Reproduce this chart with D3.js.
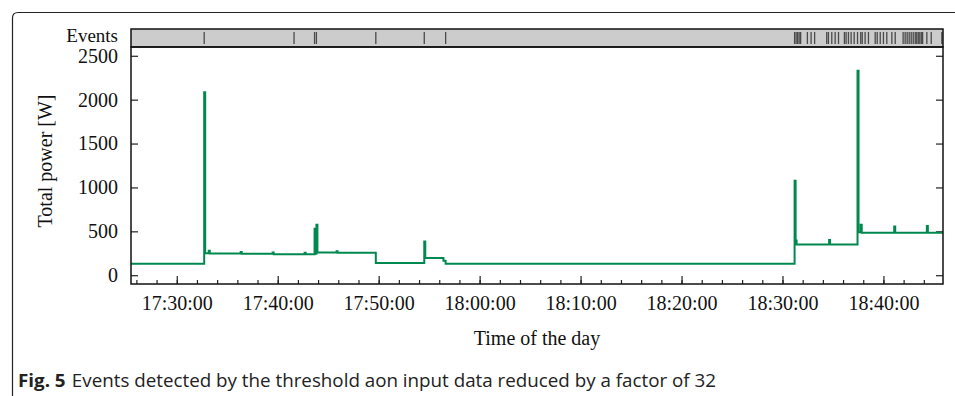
<!DOCTYPE html>
<html>
<head>
<meta charset="utf-8">
<script src="https://cdn.jsdelivr.net/npm/d3@7"></script>
<style>
  body { margin: 0; background: #fff; }
  svg { display: block; }
  .serif { font-family: "Liberation Serif", "DejaVu Serif", serif; font-size: 20px; fill: #111; }
</style>
</head>
<body>
<script>
// x range of the plot
const timeStart = "17:25:28";
const timeEnd = "18:45:54";

// detected events (time of the day)
const eventTimes = [
  "17:32:43", "17:41:37", "17:43:39", "17:43:50", "17:49:43", "17:54:31", "17:56:38",
  "18:31:12", "18:31:21", "18:31:30", "18:31:39", "18:31:48", "18:32:28", "18:32:50", "18:33:11",
  "18:34:23", "18:34:33", "18:34:53", "18:35:13", "18:35:33", "18:36:08", "18:36:18", "18:36:32",
  "18:36:48", "18:37:06", "18:37:26", "18:37:45", "18:37:54", "18:38:11", "18:38:31", "18:39:11",
  "18:39:23", "18:39:41", "18:40:00", "18:40:20", "18:40:50", "18:41:10", "18:41:57", "18:42:09",
  "18:42:21", "18:42:33", "18:42:45", "18:42:57", "18:43:09", "18:43:18", "18:43:27", "18:43:36",
  "18:43:45", "18:43:53", "18:44:18", "18:44:44", "18:45:47"
];

// total power, step series
const powerTimes = [
  "17:25:28", "17:32:43", "17:32:49", "17:33:10", "17:33:16", "17:36:20", "17:36:26",
  "17:39:30", "17:39:36", "17:42:40", "17:42:46", "17:43:39", "17:43:45", "17:43:50",
  "17:43:56", "17:45:50", "17:45:56", "17:49:43", "17:54:31", "17:54:37", "17:56:25",
  "17:56:38", "18:31:12", "18:31:18", "18:31:24", "18:34:37", "18:34:43", "18:37:26",
  "18:37:32", "18:37:45", "18:37:51", "18:41:04", "18:41:10", "18:44:18", "18:44:24",
  "18:45:54"
];
const powerWatts = [
  130, 2085, 250, 280, 248, 265, 245,
  258, 240, 255, 240, 530, 245, 575,
  260, 272, 255, 140, 385, 195, 165,
  130, 1075, 395, 350, 400, 350, 2330,
  490, 575, 485, 555, 485, 560, 485,
  485
];

const yTicks = [0, 500, 1000, 1500, 2000, 2500];

const parseT = s => d3.timeParse("%H:%M:%S")(s);
const series = powerTimes.map((t, i) => ({ t: parseT(t), v: powerWatts[i] }));

const W = 955, H = 396;
const m = { left: 131, right: 943, top: 47, bottom: 284 };
const evTop = 29;

const svg = d3.select("body").append("svg").attr("width", W).attr("height", H);

// figure frame (top + left border with rounded corner)
svg.append("path")
   .attr("d", "M12.5," + H + " L12.5,18 Q12.5,12.5 18,12.5 L" + W + ",12.5")
   .attr("fill", "none").attr("stroke", "#222").attr("stroke-width", 1.2);

const x = d3.scaleTime()
            .domain([parseT(timeStart), parseT(timeEnd)])
            .range([m.left, m.right]);
const y = d3.scaleLinear()
            .domain([-100, 2600])
            .range([m.bottom, m.top]);

// events strip
svg.append("rect")
   .attr("x", m.left).attr("y", evTop)
   .attr("width", m.right - m.left).attr("height", m.top - evTop)
   .attr("fill", "#cccccc");
svg.append("g").selectAll("line")
   .data(eventTimes)
   .enter()
   .append("line")
   .attr("x1", d => x(parseT(d))).attr("x2", d => x(parseT(d)))
   .attr("y1", evTop + 3).attr("y2", m.top - 3)
   .attr("stroke", "#4a4a4a").attr("stroke-width", 1.3);
svg.append("rect")
   .attr("x", m.left).attr("y", evTop)
   .attr("width", m.right - m.left).attr("height", m.top - evTop)
   .attr("fill", "none").attr("stroke", "#111").attr("stroke-width", 1.5);
svg.append("text").attr("class", "serif")
   .attr("x", 118).attr("y", 42).attr("text-anchor", "end")
   .style("font-size", "19px")
   .text("Events");

// axes
const yAxisL = d3.axisLeft(y).tickValues(yTicks).tickSize(-7).tickPadding(13).tickFormat(d3.format("d"));
svg.append("g").attr("transform", "translate(" + m.left + ",0)").call(yAxisL);
const yAxisR = d3.axisRight(y).tickValues(yTicks).tickSize(-7).tickFormat("");
svg.append("g").attr("transform", "translate(" + m.right + ",0)").call(yAxisR);

const xMinor = d3.axisBottom(x).ticks(d3.timeMinute.every(2)).tickSize(-4).tickFormat("");
svg.append("g").attr("transform", "translate(0," + m.bottom + ")").call(xMinor);
const xMajor = d3.axisBottom(x).ticks(d3.timeMinute.every(10)).tickSize(-8).tickPadding(12)
                 .tickFormat(d3.timeFormat("%H:%M:%S"));
svg.append("g").attr("transform", "translate(0," + m.bottom + ")").call(xMajor);

svg.selectAll(".domain").remove();
svg.selectAll(".tick line").attr("stroke", "#222").attr("stroke-width", 1.2);
svg.selectAll(".tick text")
   .attr("font-family", "Liberation Serif, DejaVu Serif, serif")
   .attr("font-size", 20).attr("fill", "#111");

// power line
const line = d3.line()
               .x(d => x(d.t))
               .y(d => y(d.v))
               .curve(d3.curveStepAfter);
svg.append("path")
   .datum(series)
   .attr("d", line)
   .attr("fill", "none")
   .attr("stroke", "#00884f")
   .attr("stroke-width", 2);

// plot frame
svg.append("rect")
   .attr("x", m.left).attr("y", m.top)
   .attr("width", m.right - m.left).attr("height", m.bottom - m.top)
   .attr("fill", "none").attr("stroke", "#111").attr("stroke-width", 1.5);

// labels
svg.append("text").attr("class", "serif")
   .attr("transform", "translate(52,161) rotate(-90)")
   .attr("text-anchor", "middle")
   .text("Total power [W]");
svg.append("text").attr("class", "serif")
   .attr("x", (m.left + m.right) / 2).attr("y", 345)
   .attr("text-anchor", "middle")
   .text("Time of the day");

// caption (condensed sans, squeezed to the reference width)
const cap = svg.append("text")
   .attr("x", 18).attr("y", 387)
   .attr("font-family", "Open Sans, Noto Sans, sans-serif")
   .attr("font-size", 18).attr("fill", "#222")
   .attr("textLength", 698).attr("lengthAdjust", "spacingAndGlyphs");
cap.append("tspan").attr("font-weight", "bold").text("Fig. 5");
cap.append("tspan").attr("dx", 6).text("Events detected by the threshold aon input data reduced by a factor of 32");
</script>
</body>
</html>
